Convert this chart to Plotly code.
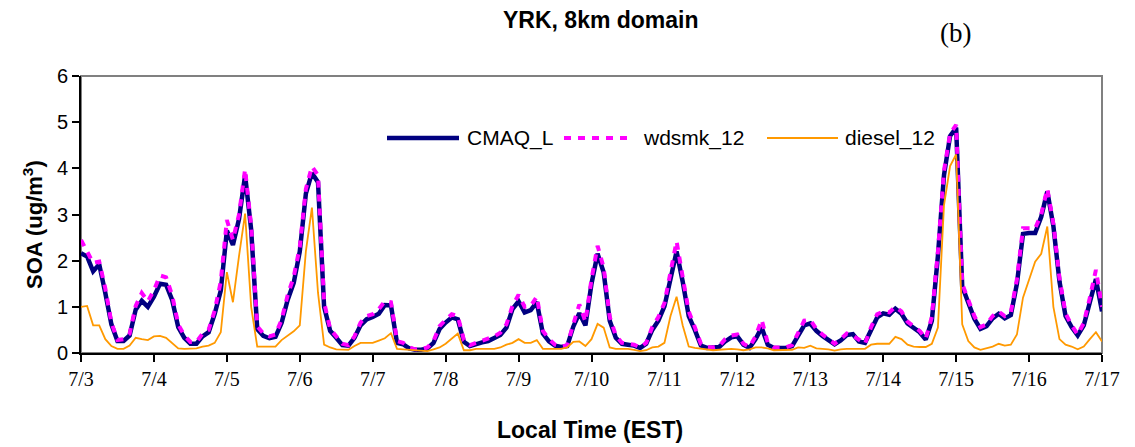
import pandas as pd
import plotly.graph_objects as go

# SOA concentrations (ug/m3) at YRK, 2-hourly, 7/3 00:00 through 7/17 00:00
cmaq_l = [
    2.16, 2.09, 1.77, 1.92, 1.30, 0.62, 0.26, 0.26, 0.38, 0.94, 1.13, 1.00,
    1.22, 1.50, 1.48, 1.15, 0.56, 0.33, 0.20, 0.20, 0.36, 0.45, 0.85, 1.35,
    2.65, 2.34, 2.90, 3.85, 2.67, 0.52, 0.37, 0.32, 0.35, 0.65, 1.15, 1.52,
    2.20, 3.45, 3.90, 3.70, 1.00, 0.48, 0.33, 0.17, 0.16, 0.33, 0.60, 0.73,
    0.78, 0.85, 1.04, 1.03, 0.22, 0.19, 0.10, 0.07, 0.07, 0.10, 0.22, 0.52,
    0.66, 0.77, 0.73, 0.24, 0.15, 0.20, 0.23, 0.26, 0.32, 0.39, 0.55, 0.95,
    1.12, 0.88, 0.93, 1.10, 0.42, 0.25, 0.16, 0.13, 0.15, 0.57, 0.86, 0.60,
    1.50, 2.15, 1.75, 0.70, 0.33, 0.20, 0.18, 0.16, 0.11, 0.20, 0.50, 0.70,
    1.01, 1.60, 2.20, 1.55, 0.80, 0.50, 0.16, 0.11, 0.11, 0.13, 0.25, 0.34,
    0.36, 0.18, 0.11, 0.30, 0.55, 0.18, 0.11, 0.11, 0.11, 0.15, 0.40, 0.60,
    0.64, 0.48, 0.37, 0.29, 0.19, 0.27, 0.39, 0.41, 0.25, 0.22, 0.50, 0.77,
    0.86, 0.83, 0.96, 0.85, 0.64, 0.54, 0.45, 0.29, 0.70, 2.10, 3.85, 4.70,
    4.88, 1.44, 1.07, 0.74, 0.52, 0.58, 0.75, 0.85, 0.75, 0.82, 1.50, 2.58,
    2.60, 2.60, 2.95, 3.50, 2.75, 1.55, 0.80, 0.56, 0.38, 0.60, 1.10, 1.60,
    0.90,
]

wdsmk_12 = [
    2.45, 2.20, 1.95, 1.98, 1.40, 0.66, 0.28, 0.30, 0.42, 1.02, 1.30, 1.12,
    1.36, 1.68, 1.64, 1.25, 0.62, 0.38, 0.24, 0.24, 0.42, 0.50, 0.92, 1.55,
    2.88, 2.45, 3.00, 3.98, 2.75, 0.58, 0.42, 0.36, 0.40, 0.72, 1.25, 1.65,
    2.30, 3.55, 4.04, 3.85, 1.10, 0.52, 0.36, 0.20, 0.17, 0.36, 0.66, 0.80,
    0.84, 0.95, 1.12, 1.10, 0.26, 0.22, 0.12, 0.08, 0.08, 0.12, 0.26, 0.58,
    0.72, 0.84, 0.80, 0.28, 0.17, 0.22, 0.26, 0.30, 0.36, 0.44, 0.62, 1.02,
    1.26, 1.00, 1.02, 1.22, 0.48, 0.30, 0.18, 0.14, 0.17, 0.62, 1.05, 0.68,
    1.60, 2.32, 1.85, 0.78, 0.38, 0.22, 0.20, 0.18, 0.12, 0.22, 0.56, 0.78,
    1.08, 1.70, 2.42, 1.65, 0.90, 0.56, 0.20, 0.13, 0.12, 0.15, 0.30, 0.38,
    0.40, 0.20, 0.13, 0.36, 0.72, 0.22, 0.12, 0.12, 0.12, 0.17, 0.45, 0.70,
    0.72, 0.52, 0.40, 0.30, 0.20, 0.30, 0.42, 0.38, 0.28, 0.20, 0.56, 0.84,
    0.90, 0.88, 1.00, 0.90, 0.68, 0.58, 0.48, 0.31, 0.78, 2.20, 3.95, 4.75,
    4.94, 1.50, 1.15, 0.80, 0.56, 0.62, 0.80, 0.90, 0.80, 0.88, 1.60, 2.70,
    2.70, 2.70, 3.00, 3.56, 2.80, 1.62, 0.86, 0.60, 0.40, 0.65, 1.20, 1.80,
    1.00,
]

diesel_12 = [
    1.00, 1.02, 0.60, 0.60, 0.30, 0.15, 0.09, 0.09, 0.16, 0.33, 0.30, 0.28,
    0.36, 0.37, 0.33, 0.22, 0.10, 0.09, 0.09, 0.10, 0.14, 0.16, 0.22, 0.45,
    1.75, 1.10, 2.10, 3.02, 1.00, 0.14, 0.14, 0.14, 0.14, 0.28, 0.38, 0.47,
    0.60, 2.20, 3.15, 1.30, 0.18, 0.12, 0.08, 0.07, 0.07, 0.15, 0.22, 0.22,
    0.22, 0.27, 0.32, 0.43, 0.09, 0.08, 0.07, 0.06, 0.05, 0.04, 0.08, 0.12,
    0.20, 0.30, 0.42, 0.06, 0.06, 0.09, 0.09, 0.09, 0.09, 0.12, 0.18, 0.22,
    0.30, 0.22, 0.22, 0.28, 0.09, 0.09, 0.09, 0.09, 0.12, 0.24, 0.25, 0.15,
    0.30, 0.63, 0.55, 0.12, 0.09, 0.09, 0.09, 0.07, 0.04, 0.06, 0.12, 0.14,
    0.22, 0.80, 1.22, 0.60, 0.14, 0.11, 0.09, 0.08, 0.06, 0.07, 0.08, 0.09,
    0.08, 0.06, 0.08, 0.12, 0.12, 0.10, 0.06, 0.06, 0.06, 0.07, 0.12, 0.11,
    0.16, 0.10, 0.09, 0.08, 0.05, 0.08, 0.09, 0.09, 0.09, 0.09, 0.18, 0.20,
    0.20, 0.20, 0.35, 0.30, 0.18, 0.14, 0.13, 0.13, 0.20, 0.55, 3.20, 4.05,
    4.30, 0.62, 0.26, 0.12, 0.07, 0.11, 0.14, 0.20, 0.16, 0.18, 0.40, 1.20,
    1.60, 1.98, 2.15, 2.74, 1.00, 0.30, 0.18, 0.14, 0.08, 0.14, 0.30, 0.45,
    0.25,
]

series_names = ["CMAQ_L", "wdsmk_12", "diesel_12"]
y_ticks = [0, 1, 2, 3, 4, 5, 6]

times = pd.date_range("2004-07-03 00:00", periods=len(cmaq_l), freq="2h")

NAVY = "#000080"
MAGENTA = "#FF00FF"
ORANGE = "#FF9900"

# plot-area geometry in pixels (used to place annotations in paper units)
W, H = 1135, 447
L, R, T, B = 81, 1102, 76, 353


def px(x):
    return (x - L) / (R - L)


def py(y):
    return (B - y) / (B - T)


fig = go.Figure()
fig.add_trace(go.Scatter(x=times, y=cmaq_l, mode="lines", name=series_names[0],
                         line=dict(color=NAVY, width=4.5)))
fig.add_trace(go.Scatter(x=times, y=wdsmk_12, mode="lines", name=series_names[1],
                         line=dict(color=MAGENTA, width=4, dash="7px,7px")))
fig.add_trace(go.Scatter(x=times, y=diesel_12, mode="lines", name=series_names[2],
                         line=dict(color=ORANGE, width=1.8)))

shapes = [
    # grey plot-area frame
    dict(type="rect", xref="paper", yref="paper", x0=0, x1=1, y0=0, y1=1,
         line=dict(color="#808080", width=2), layer="below"),
]
annotations = []

# legend drawn inside the plot area
leg_y = py(138)
legend_items = [
    (series_names[0], NAVY, 4.5, "solid", 387, 459, 465),
    (series_names[1], MAGENTA, 4, "7px,7px", 564, 634, 641),
    (series_names[2], ORANGE, 2, "solid", 767, 838, 843),
]
for name, color, width, dash, x0, x1, xt in legend_items:
    shapes.append(dict(type="line", xref="paper", yref="paper",
                       x0=px(x0), x1=px(x1), y0=leg_y, y1=leg_y,
                       line=dict(color=color, width=width, dash=dash)))
    annotations.append(dict(text=name, xref="paper", yref="paper",
                            x=px(xt), y=leg_y, xanchor="left", yanchor="middle",
                            showarrow=False,
                            font=dict(family="Liberation Sans, Arial", size=21, color="black")))

annotations += [
    dict(text="<b>YRK, 8km domain</b>", xref="paper", yref="paper",
         x=px(601), y=py(20), xanchor="center", yanchor="middle", showarrow=False,
         font=dict(family="Liberation Sans, Arial", size=23, color="black")),
    dict(text="(b)", xref="paper", yref="paper",
         x=px(955), y=py(33), xanchor="center", yanchor="middle", showarrow=False,
         font=dict(family="Liberation Serif, Times New Roman", size=27, color="black")),
    dict(text="<b>SOA (ug/m<sup>3</sup>)</b>", xref="paper", yref="paper",
         x=px(33), y=py(225), xanchor="center", yanchor="middle", showarrow=False,
         textangle=-90,
         font=dict(family="Liberation Sans, Arial", size=22, color="black")),
    dict(text="<b>Local Time (EST)</b>", xref="paper", yref="paper",
         x=px(590), y=py(430), xanchor="center", yanchor="middle", showarrow=False,
         font=dict(family="Liberation Sans, Arial", size=23, color="black")),
]

fig.update_layout(
    width=W, height=H,
    margin=dict(l=L, r=W - R, t=T, b=H - B, pad=0),
    paper_bgcolor="white", plot_bgcolor="white",
    showlegend=False,
    shapes=shapes, annotations=annotations,
    xaxis=dict(
        type="date", range=["2004-07-03", "2004-07-17"],
        tick0="2004-07-03", dtick=86400000, tickformat="%-m/%-d",
        ticks="outside", ticklen=7, tickwidth=2, tickcolor="black",
        showline=True, linecolor="black", linewidth=2,
        showgrid=False, zeroline=False,
        tickfont=dict(family="Liberation Serif, Times New Roman", size=20, color="black"),
    ),
    yaxis=dict(
        range=[0, 6], tickvals=y_ticks,
        ticks="outside", ticklen=7, tickwidth=2, tickcolor="black",
        showline=True, linecolor="black", linewidth=2,
        showgrid=False, zeroline=False,
        tickfont=dict(family="Liberation Sans, Arial", size=20, color="black"),
    ),
)

fig.write_html("out.html")
